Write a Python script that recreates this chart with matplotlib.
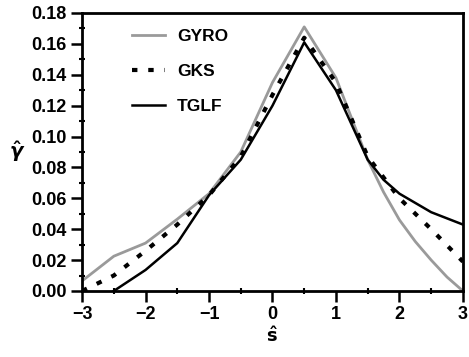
import matplotlib
matplotlib.use("Agg")
import matplotlib.pyplot as plt
from matplotlib.ticker import MultipleLocator

plt.rcParams['font.family'] = ['Liberation Sans', 'DejaVu Sans']
plt.rcParams['font.weight'] = 'bold'
plt.rcParams['mathtext.fontset'] = 'dejavusans'

gyro_x = [-3.0, -2.5, -2.0, -1.5, -1.0, -0.5, 0.0, 0.5, 1.0, 1.5, 1.75, 2.0, 2.25, 2.5, 2.75, 3.0]
gyro_y = [0.0065, 0.0225, 0.031, 0.0465, 0.063, 0.090, 0.135, 0.171, 0.138, 0.085, 0.064, 0.046, 0.032, 0.020, 0.009, 0.0]

gks_x = [-3.0, -2.5, -2.0, -1.5, -1.0, -0.5, 0.0, 0.5, 1.0, 1.5, 2.0, 2.5, 3.0]
gks_y = [0.0, 0.010, 0.026, 0.043, 0.062, 0.087, 0.127, 0.164, 0.135, 0.087, 0.060, 0.040, 0.019]

tglf_x = [-2.5, -2.0, -1.5, -1.0, -0.5, 0.0, 0.5, 1.0, 1.5, 1.75, 2.0, 2.5, 3.0]
tglf_y = [0.0, 0.0136, 0.031, 0.062, 0.085, 0.120, 0.161, 0.130, 0.085, 0.072, 0.063, 0.051, 0.043]

fig = plt.figure(figsize=(4.69, 3.57), dpi=100)
ax = fig.add_axes([0.175, 0.185, 0.812, 0.7786])

ax.plot(gyro_x, gyro_y, color='#9a9a9a', lw=2.0, label='GYRO', zorder=2)
ax.plot(gks_x, gks_y, color='black', lw=3.0, linestyle=(0, (1.3, 2.6)), label='GKS', zorder=3)
ax.plot(tglf_x, tglf_y, color='black', lw=1.8, label='TGLF', zorder=2)

ax.set_xlim(-3, 3)
ax.set_ylim(0, 0.18)
ax.xaxis.set_major_locator(MultipleLocator(1))
ax.xaxis.set_minor_locator(MultipleLocator(0.5))
ax.yaxis.set_major_locator(MultipleLocator(0.02))
ax.yaxis.set_minor_locator(MultipleLocator(0.01))
ax.yaxis.set_major_formatter(matplotlib.ticker.FormatStrFormatter('%.2f'))
ax.xaxis.set_major_formatter(matplotlib.ticker.FuncFormatter(lambda v, p: f"{int(round(v))}".replace('-', '\u2212')))

ax.tick_params(axis='both', which='major', direction='out', length=8, width=1.8, labelsize=13, pad=3)
ax.tick_params(axis='both', which='minor', direction='inout', length=5, width=1.5)
ax.tick_params(top=False, right=False, which='both')
for lab in ax.get_xticklabels() + ax.get_yticklabels():
    lab.set_fontweight('bold')
for s in ax.spines.values():
    s.set_linewidth(2.0)

ax.set_xlabel(r'$\hat{\mathbf{s}}$', fontsize=13, labelpad=2)
ax.set_ylabel(r'$\hat{\gamma}$', fontsize=14, rotation=0, labelpad=10, va='center')

leg = ax.legend(loc='upper left', bbox_to_anchor=(0.09, 1.0), frameon=False, handlelength=1.9,
                handletextpad=0.7, labelspacing=1.15, prop={'weight': 'bold', 'size': 12.5})

fig.savefig('out.png', dpi=100)
